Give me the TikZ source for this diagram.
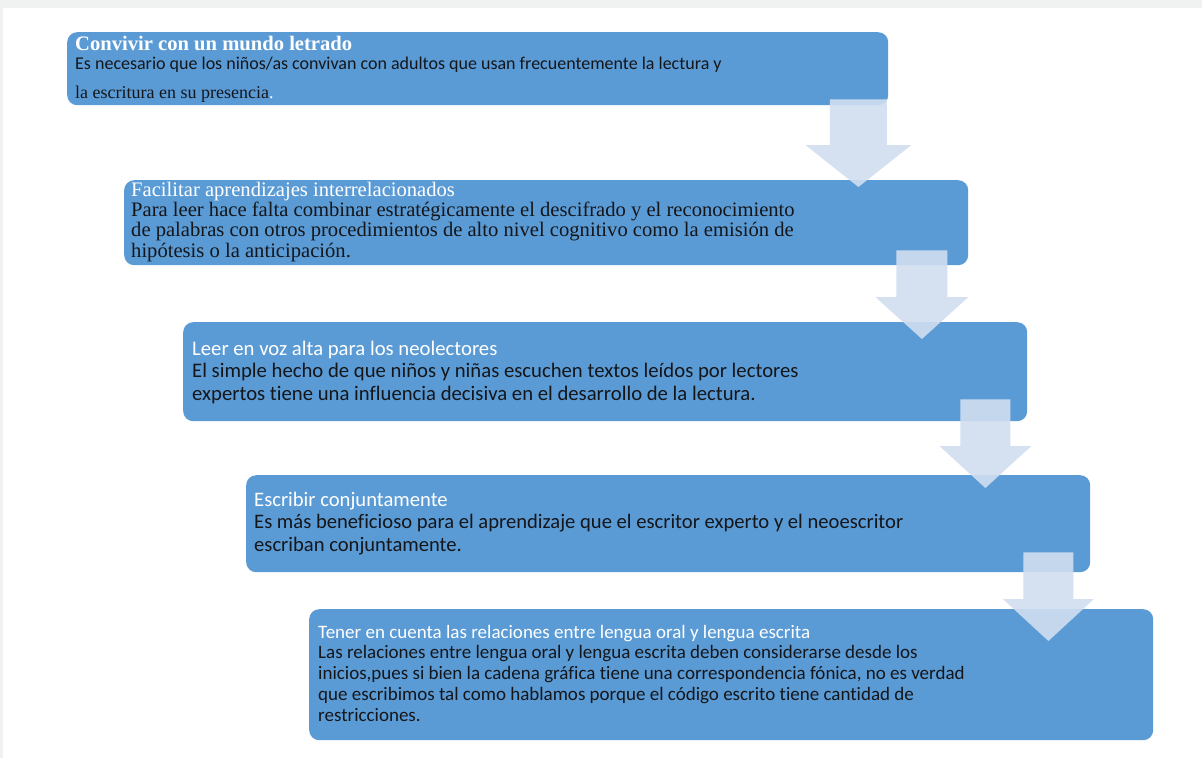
\documentclass[tikz,border=0pt]{standalone}
\usepackage{fontspec}
\setmainfont{Liberation Serif}
\setsansfont{Carlito}[Ligatures=NoCommon]
\usetikzlibrary{calc}
\definecolor{boxblue}{RGB}{91,155,213}
\definecolor{arrowfill}{RGB}{209,222,240}
\definecolor{bodyink}{RGB}{20,22,26}
\definecolor{pagegray}{RGB}{240,242,241}

\begin{document}
\begin{tikzpicture}[x=1pt,y=-1pt,
    box/.style={fill=boxblue,rounded corners=10pt,minimum width=844pt,anchor=north west,inner sep=0pt},
    ttl/.style={text=white,anchor=base west,inner sep=0pt},
    txt/.style={text=bodyink,anchor=base west,inner sep=0pt,align=left},
    arrow/.style={fill=arrowfill,fill opacity=.9}]
  \fill[pagegray] (0,0) rectangle (1202,758);
  \fill[white] (3,8) rectangle (1202,758);

  \node[box,minimum width=821pt,minimum height=73pt] (conv) at (67,32) {};
  \node[box,minimum height=85pt] (facil) at (124,180) {};
  \node[box,minimum height=99pt] (leer) at (183,322) {};
  \node[box,minimum height=97pt] (escrib) at (246,475) {};
  \node[box,minimum height=131pt] (tener) at (309,609) {};

  % base of a multi-line text is its last line
  \node[ttl,font=\bfseries\fontsize{20.6}{22}\selectfont] (convT) at ($(conv.north west)+(8,18)$) {Convivir con un mundo letrado};
  \node[txt,font=\sffamily\fontsize{18}{20}\selectfont] (convA) at ($(conv.north west)+(8,37)$) {Es necesario que los niños/as convivan con adultos que usan frecuentemente la lectura y};
  \node[txt,font=\fontsize{18}{20}\selectfont] (convB) at ($(conv.north west)+(8,66)$) {la escritura en su presencia\textcolor{white}{.}};

  \node[ttl,font=\fontsize{20.6}{20}\selectfont] (facilT) at ($(facil.north west)+(7,16)$) {Facilitar aprendizajes interrelacionados};
  \node[txt,font=\fontsize{20.6}{20.5}\selectfont] (facilA) at ($(facil.north west)+(7,77)$) {Para leer hace falta combinar estratégicamente el descifrado y el reconocimiento\\de palabras con otros procedimientos de alto nivel cognitivo como la emisión de\\hipótesis o la anticipación.};

  \node[ttl,font=\sffamily\fontsize{20.7}{22.5}\selectfont] (leerT) at ($(leer.north west)+(9,33)$) {Leer en voz alta para los neolectores};
  \node[txt,font=\sffamily\fontsize{20.7}{22.5}\selectfont] (leerA) at ($(leer.north west)+(9,78)$) {El simple hecho de que niños y niñas escuchen textos leídos por lectores\\expertos tiene una influencia decisiva en el desarrollo de la lectura.};

  \node[ttl,font=\sffamily\fontsize{20.6}{23}\selectfont] (escribT) at ($(escrib.north west)+(8,31)$) {Escribir conjuntamente};
  \node[txt,font=\sffamily\fontsize{20.6}{23}\selectfont] (escribA) at ($(escrib.north west)+(8,76)$) {Es más beneficioso para el aprendizaje que el escritor experto y el neoescritor\\escriban conjuntamente.};

  \node[ttl,font=\sffamily\fontsize{19}{21}\selectfont] (tenerT) at ($(tener.north west)+(9,29)$) {Tener en cuenta las relaciones entre lengua oral y lengua escrita};
  \node[txt,font=\sffamily\fontsize{19}{21}\selectfont] (tenerA) at ($(tener.north west)+(9,112)$) {Las relaciones entre lengua oral y lengua escrita deben considerarse desde los\\inicios,pues si bien la cadena gráfica tiene una correspondencia fónica, no es verdad\\que escribimos tal como hablamos porque el código escrito tiene cantidad de\\restricciones.};

  \foreach \a/\b/\dx/\up/\dn/\sw/\hw in {conv/facil/110/6/7/28.5/53, facil/leer/105.5/15/17/25.5/46.5, leer/escrib/105/22/13/25/46, escrib/tener/105/20/32/25/45.5}{
    \coordinate (top) at ($(\a.south -| \b.north east)+(-\dx,-\up)$);
    \coordinate (tip) at ($(\b.north east)+(-\dx,\dn)$);
    \fill[arrow] ($(top)+(-\sw,0)$) -- ($(top)+(\sw,0)$) -- ($(tip)+(\sw,-42)$) -- ($(tip)+(\hw,-42)$)
      -- (tip) -- ($(tip)+(-\hw,-42)$) -- ($(tip)+(-\sw,-42)$) -- cycle;
  }
\end{tikzpicture}
\end{document}
